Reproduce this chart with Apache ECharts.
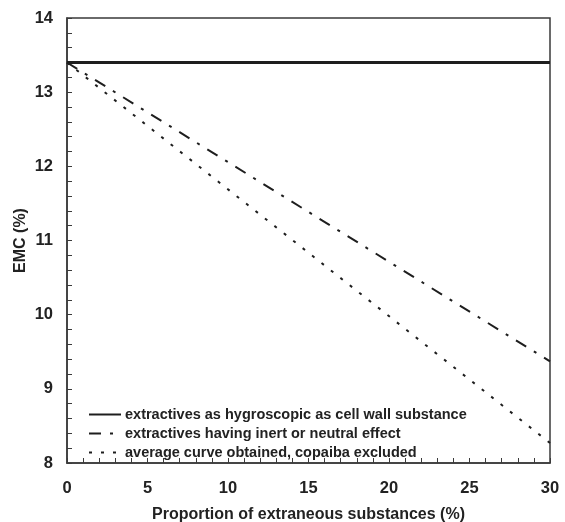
<!DOCTYPE html>
<html>
<head>
<meta charset="utf-8">
<script src="https://cdn.jsdelivr.net/npm/echarts@6/dist/echarts.min.js"></script>
<style>html,body{margin:0;padding:0;background:#fff}#c{width:565px;height:522px}</style>
</head>
<body>
<div id="c"></div>
<script>
var xValues = [0, 30];
var hygroscopic = [13.4, 13.4];
var inertEffect = [13.4, 9.37];
var averageCurve = [13.4, 8.27];
var seriesNames = [
  'extractives as hygroscopic as cell wall substance',
  'extractives having inert or neutral effect',
  'average curve obtained, copaiba excluded'
];
var xName = 'Proportion of extraneous substances (%)';
var yName = 'EMC (%)';

function pairs(xs, ys) { return xs.map(function (x, i) { return [x, ys[i]]; }); }

var txt = '#222';
var lineC = '#1e1e1e';
var axC = '#3a3a3a';
var font = 'Liberation Sans, Arial, sans-serif';
var chart = echarts.init(document.getElementById('c'));
chart.setOption({
  animation: false,
  backgroundColor: '#fff',
  grid: { left: 67, right: 15, top: 18, bottom: 59, containLabel: false, outerBoundsMode: 'none',
          show: true, borderColor: axC, borderWidth: 1.5 },
  xAxis: {
    type: 'value', min: 0, max: 30, interval: 5,
    name: xName, nameLocation: 'middle', nameGap: 44,
    nameTextStyle: { color: txt, fontSize: 16, fontWeight: 'bold', fontFamily: font },
    axisLine: { show: true, lineStyle: { color: axC, width: 1.5 } },
    axisTick: { show: true, inside: true, length: 5, lineStyle: { color: axC } },
    minorTick: { show: true, splitNumber: 5, length: 5, lineStyle: { color: axC } },
    splitLine: { show: false },
    axisLabel: { color: txt, fontSize: 16.5, fontWeight: 'bold', fontFamily: font, margin: 17 }
  },
  yAxis: {
    type: 'value', min: 8, max: 14, interval: 1,
    name: yName, nameLocation: 'middle', nameGap: 38, nameRotate: 90, nameMoveOverlap: false,
    nameTextStyle: { color: txt, fontSize: 16, fontWeight: 'bold', fontFamily: font },
    axisLine: { show: true, lineStyle: { color: axC, width: 1.5 } },
    axisTick: { show: true, inside: true, length: 5, lineStyle: { color: axC } },
    minorTick: { show: true, splitNumber: 5, length: 5, lineStyle: { color: axC } },
    splitLine: { show: false },
    axisLabel: { color: txt, fontSize: 16.5, fontWeight: 'bold', fontFamily: font, margin: 14 }
  },
  legend: {
    orient: 'vertical', left: 83, top: 402, itemWidth: 32, itemHeight: 10, itemGap: 4,
    itemStyle: { color: 'rgba(0,0,0,0)', borderWidth: 0, opacity: 0 },
    textStyle: { color: txt, fontSize: 14.5, fontWeight: 'bold', fontFamily: font, padding: [0, 0, 0, -1] },
    data: seriesNames
  },
  series: [
    { name: seriesNames[0], type: 'line', data: pairs(xValues, hygroscopic), symbol: 'none',
      lineStyle: { color: lineC, width: 3, type: 'solid' }, itemStyle: { color: lineC } },
    { name: seriesNames[1], type: 'line', data: pairs(xValues, inertEffect), symbol: 'none',
      lineStyle: { color: lineC, width: 2, type: [12, 9, 3, 9] }, itemStyle: { color: lineC } },
    { name: seriesNames[2], type: 'line', data: pairs(xValues, averageCurve), symbol: 'none',
      lineStyle: { color: lineC, width: 2, type: [3, 9] }, itemStyle: { color: lineC } }
  ]
});
</script>
</body>
</html>
